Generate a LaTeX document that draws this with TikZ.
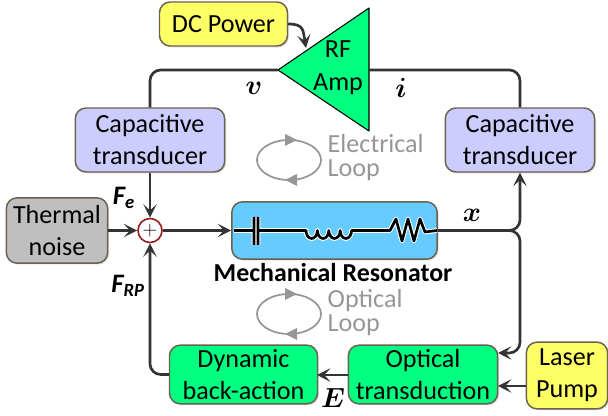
\documentclass[tikz,border=0pt]{standalone}
\usepackage{amsmath}
\usepackage{fontspec}
\setmainfont{Carlito}
\usetikzlibrary{arrows.meta, shadows, calc}
\definecolor{boxedge}{RGB}{104,98,78}
\definecolor{wirecol}{RGB}{52,52,52}
\definecolor{loopcol}{RGB}{150,150,150}
\definecolor{powerfill}{RGB}{255,255,102}
\definecolor{capfill}{RGB}{204,204,255}
\definecolor{noisefill}{RGB}{191,191,191}
\definecolor{resfill}{RGB}{102,204,255}
\definecolor{optfill}{RGB}{0,255,128}
\definecolor{sumedge}{RGB}{150,30,30}
\tikzset{
    block/.style={draw=boxedge, line width=1.1pt, rounded corners=8pt, align=center,
        inner sep=0pt, font=\fontsize{19.6}{24}\selectfont,
        drop shadow={shadow xshift=1pt, shadow yshift=-1pt, opacity=0.3}},
    wire/.style={draw=wirecol, line width=2pt, rounded corners=8pt},
    loopline/.style={draw=loopcol, line width=1.3pt},
    looptext/.style={text=loopcol, align=left, anchor=west, font=\fontsize{19.6}{18}\selectfont},
    sym/.style={font=\fontsize{20}{20}\selectfont},
    forcelabel/.style={font=\fontsize{20}{20}\bfseries\itshape\selectfont}
}
\begin{document}
\begin{tikzpicture}[x=0.75pt, y=-0.75pt, >={Stealth[length=10pt, width=10pt, inset=4.5pt]}]
    \useasboundingbox (0,0) rectangle (608,416);
    % Khung tín hiệu
    \node[block, fill=powerfill, minimum width=96pt, minimum height=33pt] (dcpower) at (223.5,24) {DC Power};
    \node[block, fill=capfill, minimum width=112pt, minimum height=48pt] (capleft) at (150,140) {Capacitive\\transducer};
    \node[block, fill=capfill, minimum width=112pt, minimum height=48pt] (capright) at (520,140) {Capacitive\\transducer};
    \node[block, fill=noisefill, minimum width=76pt, minimum height=49pt] (thermal) at (57,230.5) {Thermal\\noise};
    \node[block, fill=resfill, minimum width=154pt, minimum height=43pt] (resonator) at (334.5,230.5) {};
    \node[block, fill=optfill, minimum width=111pt, minimum height=44pt] (dynamic) at (243.5,374.5) {Dynamic\\back-action};
    \node[block, fill=optfill, minimum width=112pt, minimum height=44pt] (optical) at (423,374.5) {Optical\\transduction};
    \node[block, fill=powerfill, minimum width=61pt, minimum height=50pt] (laser) at (567,375.5) {Laser\\Pump};
    \node[circle, draw=sumedge, line width=1.2pt, fill=white, minimum size=18pt, inner sep=0pt, font=\fontsize{15}{15}\selectfont] (sum) at (150,230.5) {$+$};
    % Bộ khuếch đại RF
    \coordinate (ampin) at (278,70);
    \coordinate (ampout) at (369,70);
    \coordinate (dcin) at (306,48);
    \fill[optfill, draw=black, line width=0.8pt, line join=round] (ampin) -- (369,8) -- (369,131) -- cycle;
    \node[align=center, font=\fontsize{19.6}{25}\selectfont] (amp) at (338,68) {RF\\Amp};
    % Các đường nối
    \coordinate (junction) at (520,230.5);
    \coordinate (bendlow) at (520,353);
    \coordinate (optin) at (498,353);
    \coordinate (optout) at (348,375);
    \coordinate (backin) at (317,375);
    \coordinate (laserout) at (526,386);
    \coordinate (laserin) at (498,386);
    \draw[wire, ->] (dcpower.east) .. controls (304,24) and (303,30) .. (dcin);
    \draw[wire] (ampin) -| (capleft.north);
    \draw[wire] (ampout) -| (capright.north);
    \draw[wire, ->] (capleft.south) -- (sum.north);
    \draw[wire, ->] (thermal.east) -- (sum.west);
    \draw[wire, ->] (sum.east) -- (resonator.west);
    \draw[wire, ->] (dynamic.west) -| (sum.south);
    \draw[wire, ->] (resonator.east) -| (capright.south);
    \draw[wire, ->] (resonator.east) -- (junction) -- (bendlow) -- (optin);
    \draw[wire, ->] (optout) -- (backin);
    \draw[wire, ->] (laserout) -- (laserin);
    % Mạch trong bộ cộng hưởng
    \foreach \linecol/\linewd in {white/3.6pt, black/2pt} {
        \draw[\linecol, line width=\linewd, line join=round]
            (234,230.5) -- (254,230.5) (258,230.5) -- (306,230.5)
            arc[start angle=180, end angle=360, x radius=5.7, y radius=-8]
            arc[start angle=180, end angle=360, x radius=5.7, y radius=-8]
            arc[start angle=180, end angle=360, x radius=5.7, y radius=-8]
            arc[start angle=180, end angle=360, x radius=5.7, y radius=-8]
            -- (390,230.5) -- (396,219) -- (402,241) -- (408,219) -- (414,241) -- (420,219) -- (425,232) -- (437,230.5)
            (254,217) -- (254,245) (258,217) -- (258,245);
    }
    % Vòng lặp điện và quang
    \foreach \loopy in {160, 314} {
        \draw[loopline] (289,\loopy) ellipse[x radius=32, y radius=20];
        \fill[loopcol] (285,\loopy-26) -- (297,\loopy-20) -- (285,\loopy-14) -- cycle;
        \fill[loopcol] (297,\loopy+14) -- (285,\loopy+20) -- (297,\loopy+26) -- cycle;
    }
    \node[looptext] (eloop) at (323,158) {Electrical\\Loop};
    \node[looptext] (oloop) at (323,313) {Optical\\Loop};
    % Nhãn
    \node[font=\fontsize{19.4}{20}\bfseries\selectfont] (reslabel) at (333,273) {Mechanical Resonator};
    \node[sym] (vlabel) at (254,88) {$\boldsymbol{v}$};
    \node[sym] (ilabel) at (401,88) {$\boldsymbol{i}$};
    \node[forcelabel] (felabel) at (124,198) {F\textsubscript{e}};
    \node[forcelabel] (frplabel) at (128,286) {F\textsubscript{RP}};
    \node[sym] (xlabel) at (472,215) {$\boldsymbol{x}$};
    \node[sym] (elabel) at (333,398) {$\boldsymbol{E}$};
\end{tikzpicture}
\end{document}
